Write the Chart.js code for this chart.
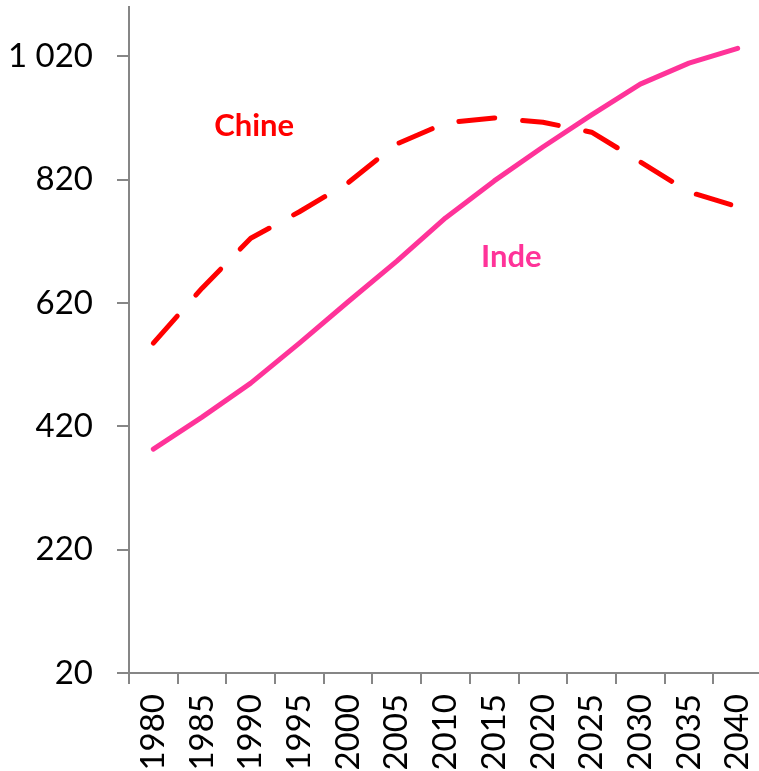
<!DOCTYPE html>
<html>
<head>
<meta charset="utf-8">
<script src="https://cdn.jsdelivr.net/npm/chart.js@4/dist/chart.umd.min.js"></script>
<style>
  html, body { margin: 0; padding: 0; background: #fff; overflow: hidden; }
  canvas { display: block; }
</style>
</head>
<body>
<canvas id="canvas" width="762" height="771"></canvas>
<script>
let years = ['1980', '1985', '1990', '1995', '2000', '2005', '2010', '2015', '2020', '2025', '2030', '2035', '2040'];
let chine = [555, 644, 725, 768, 815, 878, 912, 920, 913, 897, 849, 800, 776];
let inde = [383, 435, 490, 555, 622, 688, 758, 818, 873, 925, 975, 1009, 1033];
let yTicks = [20, 220, 420, 620, 820, 1020];

// where the series names sit, in axis units (category index, value)
let notes = [
    { at: 2.07, value: 907 },
    { at: 7.35, value: 694 },
];

let axisGrey = '#868686';

let seriesNames = {
    id: 'seriesNames',
    afterDatasetsDraw(chart) {
        let c = chart.ctx;
        let xs = chart.scales.x, ys = chart.scales.y;
        c.save();
        c.font = 'bold 31px Lato';
        c.textAlign = 'center';
        c.textBaseline = 'middle';
        chart.data.datasets.forEach((ds, i) => {
            c.fillStyle = ds.borderColor;
            c.fillText(ds.label, xs.getPixelForValue(notes[i].at), ys.getPixelForValue(notes[i].value));
        });
        c.restore();
    }
};

let noPadding = (scale) => {
    scale.paddingTop = 0;
    scale.paddingBottom = 0;
    scale.paddingLeft = 0;
    scale.paddingRight = 0;
};

let ctx = document.getElementById('canvas').getContext('2d');

new Chart(ctx, {
    type: 'line',
    data: {
        labels: years,
        datasets: [{
            label: 'Chine',
            data: chine,
            borderColor: '#ff0000',
            borderWidth: 5,
            borderDash: [36, 28],
            borderCapStyle: 'round',
            borderJoinStyle: 'round',
            pointRadius: 0,
            tension: 0,
        }, {
            label: 'Inde',
            data: inde,
            borderColor: '#ff3399',
            borderWidth: 5,
            borderCapStyle: 'round',
            borderJoinStyle: 'round',
            pointRadius: 0,
            tension: 0,
        }],
    },
    options: {
        responsive: false,
        animation: false,
        layout: { padding: { top: 7, right: 0, left: 0, bottom: 0 } },
        plugins: {
            legend: { display: false },
            tooltip: { enabled: false },
        },
        scales: {
            x: {
                offset: true,
                grid: {
                    offset: true,
                    drawOnChartArea: false,
                    color: axisGrey,
                    tickLength: 11,
                    lineWidth: 2,
                },
                border: { color: axisGrey, width: 2 },
                ticks: {
                    color: '#000',
                    font: { family: 'Lato', size: 33 },
                    minRotation: 90,
                    maxRotation: 90,
                    padding: 10,
                    autoSkip: false,
                },
                afterFit(scale) { scale.height = 98; noPadding(scale); },
            },
            y: {
                min: 20,
                max: 1100,
                afterBuildTicks(scale) {
                    scale.ticks = yTicks.map(v => ({ value: v }));
                },
                grid: {
                    drawOnChartArea: false,
                    color: axisGrey,
                    tickLength: 12,
                    lineWidth: 2,
                },
                border: { color: axisGrey, width: 2 },
                ticks: {
                    color: '#000',
                    font: { family: 'Lato', size: 33 },
                    padding: 24,
                    callback: v => String(v).replace(/\B(?=(\d{3})+(?!\d))/g, ' '),
                },
                afterFit(scale) { scale.width = 129; noPadding(scale); },
            },
        },
    },
    plugins: [seriesNames],
});
</script>
</body>
</html>
